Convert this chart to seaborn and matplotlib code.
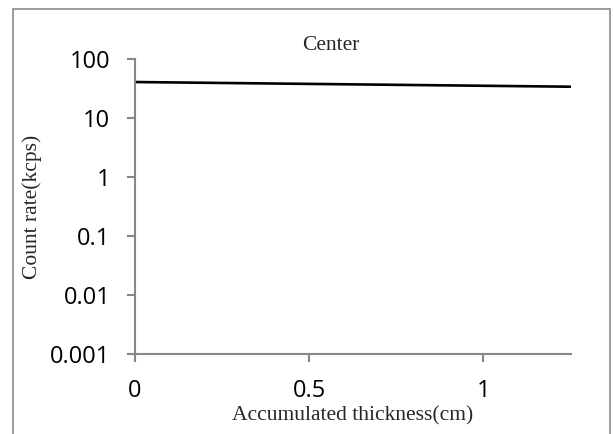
import matplotlib
matplotlib.use("Agg")
import matplotlib.pyplot as plt
import matplotlib.patches as mpatches
from matplotlib.ticker import FixedLocator, FixedFormatter, NullLocator
import seaborn as sns
import pandas as pd

# Count rate through the center versus accumulated thickness
thickness_cm = [0.0, 1.25]
count_rate_kcps = [41.3, 34.4]

x_ticks = [0, 0.5, 1]
x_tick_labels = ["0", "0.5", "1"]
y_ticks = [0.001, 0.01, 0.1, 1, 10, 100]
y_tick_labels = ["0.001", "0.01", "0.1", "1", "10", "100"]

df = pd.DataFrame({"thickness": thickness_cm, "rate": count_rate_kcps})

sns.set_style("white")
W, H = 613, 434
fig = plt.figure(figsize=(W / 100, H / 100), dpi=100)
ax = fig.add_axes([135 / W, 1 - 354 / H, (570.5 - 135) / W, (354 - 59.4) / H])

sns.lineplot(data=df, x="thickness", y="rate", ax=ax, color="black", linewidth=1.9)

ax.set_yscale("log")
ax.set_ylim(0.001, 100)
ax.set_xlim(0, 1.25)
ax.yaxis.set_major_locator(FixedLocator(y_ticks))
ax.yaxis.set_major_formatter(FixedFormatter(y_tick_labels))
ax.yaxis.set_minor_locator(NullLocator())
ax.xaxis.set_major_locator(FixedLocator(x_ticks))
ax.xaxis.set_major_formatter(FixedFormatter(x_tick_labels))

for side in ("top", "right"):
    ax.spines[side].set_visible(False)
axis_gray = "#878787"
for side in ("left", "bottom"):
    ax.spines[side].set_color(axis_gray)
    ax.spines[side].set_linewidth(1.5)

tick_font = ["Open Sans", "DejaVu Sans"]
ax.tick_params(axis="both", which="major", direction="out", length=5.8, width=1.5,
               color=axis_gray, labelsize=17, bottom=True, left=True)
ax.tick_params(axis="y", pad=12)
ax.tick_params(axis="x", pad=12.5)
for lbl in ax.get_xticklabels() + ax.get_yticklabels():
    lbl.set_family(tick_font)
    lbl.set_color("black")

serif = ["Liberation Serif", "DejaVu Serif"]
ax.set_xlabel("Accumulated thickness(cm)", family=serif, fontsize=15.5, labelpad=2)
ax.set_ylabel("Count rate(kcps)", family=serif, fontsize=15.5, labelpad=6)
fig.text(331 / W, 1 - 45 / H, "Center", family=serif, fontsize=15.5,
         ha="center", va="center")

# outer chart frame
frame = mpatches.Rectangle((12.7 / W, -0.05), (610 - 12.7) / W, 1 - 9 / H + 0.05,
                           transform=fig.transFigure, fill=False,
                           edgecolor="#8a8a8a", linewidth=1.2, clip_on=False)
fig.patches.append(frame)

fig.savefig("out.png", dpi=100)
